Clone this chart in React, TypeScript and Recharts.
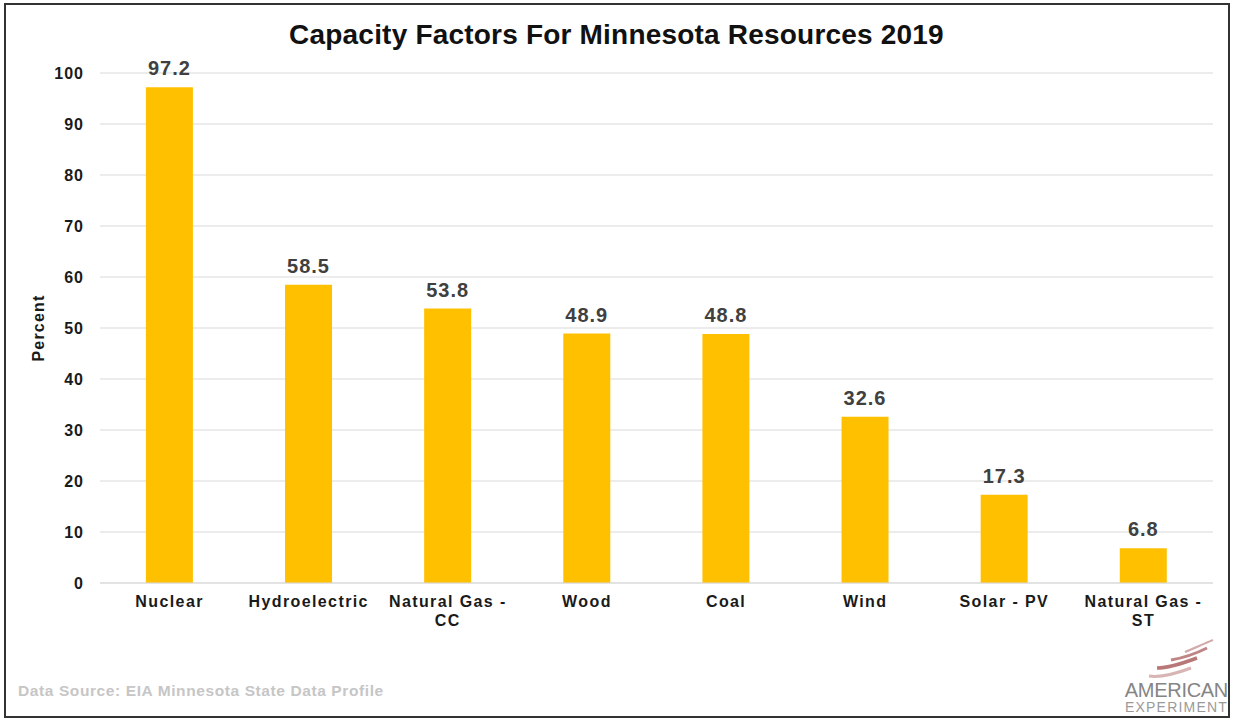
import React from "react";
import { BarChart, Bar, XAxis, YAxis, CartesianGrid, LabelList } from "recharts";

const categories = ["Nuclear", "Hydroelectric", "Natural Gas - CC", "Wood", "Coal", "Wind", "Solar - PV", "Natural Gas - ST"];
const values = [97.2, 58.5, 53.8, 48.9, 48.8, 32.6, 17.3, 6.8];
const yTicks = [0, 10, 20, 30, 40, 50, 60, 70, 80, 90, 100];

const data = categories.map((c, i) => ({ name: c, value: values[i] }));

const FONT = "'Liberation Sans', Arial, sans-serif";

const XTick = (props: any) => {
  const { x, y, payload } = props;
  const label: string = payload.value;
  let lines: string[] = [label];
  if (label.startsWith("Natural Gas - ")) {
    lines = ["Natural Gas -", label.replace("Natural Gas - ", "")];
  }
  return (
    <g transform={`translate(${x},${y})`}>
      {lines.map((l, i) => (
        <text key={i} x={0} y={i * 19} dy={12} textAnchor="middle" fill="#1a1a1a" fontSize={16} fontWeight="bold" letterSpacing={1.4} fontFamily={FONT}>
          {l}
        </text>
      ))}
    </g>
  );
};

export default function App() {
  return (
    <div style={{ position: "absolute", left: 0, top: 0, width: 1233, height: 721, background: "#fff", fontFamily: FONT }}>
      <div style={{ position: "absolute", left: 4, top: 3, width: 1222, height: 711, border: "2px solid #333", boxSizing: "content-box" }} />
      <div style={{ position: "absolute", left: 0, top: 19, width: 1233, textAlign: "center", fontSize: 28, fontWeight: "bold", color: "#111", letterSpacing: 0.2 }}>
        Capacity Factors For Minnesota Resources 2019
      </div>
      <div style={{ position: "absolute", left: 0, top: 0 }}>
        <BarChart width={1233} height={721} data={data} margin={{ top: 73, right: 20, bottom: 108, left: 0 }} barCategoryGap="33%">
          <CartesianGrid vertical={false} stroke="#d9d9d9" />
          <XAxis dataKey="name" height={30} axisLine={{ stroke: "#d9d9d9" }} tickLine={false} tick={<XTick />} interval={0} tickMargin={6} />
          <YAxis
            width={100}
            domain={[0, 100]}
            ticks={yTicks}
            axisLine={false}
            tickLine={false}
            tickSize={0}
            tickMargin={16}
            tick={{ fill: "#1a1a1a", fontSize: 16, fontWeight: "bold", fontFamily: FONT, letterSpacing: 1 }}
            label={{ value: "Percent", angle: -90, position: "insideLeft", offset: 38, style: { fill: "#1a1a1a", fontSize: 16, fontWeight: "bold", fontFamily: FONT, textAnchor: "middle", letterSpacing: 1.2 } }}
          />
          <Bar dataKey="value" fill="#FFC000" isAnimationActive={false}>
            <LabelList dataKey="value" position="top" offset={12} fill="#404040" fontSize={20} fontWeight="bold" letterSpacing={1} fontFamily={FONT} />
          </Bar>
        </BarChart>
      </div>
      <div style={{ position: "absolute", left: 18, top: 682, fontSize: 15.5, fontWeight: "bold", color: "#c6c6c6", letterSpacing: 0.6 }}>
        Data Source: EIA Minnesota State Data Profile
      </div>
      <svg style={{ position: "absolute", left: 1145, top: 638 }} width={72} height={45}>
        <path d="M40 14 C50 10, 58 6, 68 2" stroke="#d4aaaa" strokeWidth={2} fill="none" />
        <path d="M26 22 C38 20, 50 16, 62 10" stroke="#c08585" strokeWidth={3} fill="none" />
        <path d="M12 30 C24 30, 36 26, 52 20" stroke="#b87878" strokeWidth={3.5} fill="none" />
        <path d="M4 38 C16 40, 30 36, 46 30" stroke="#d8b4b4" strokeWidth={3} fill="none" />
      </svg>
      <div style={{ position: "absolute", left: 1090, top: 680, width: 138, textAlign: "right", fontSize: 20, color: "#858585", lineHeight: "20px", letterSpacing: -0.3 }}>
        AMERICAN
      </div>
      <div style={{ position: "absolute", left: 1090, top: 700, width: 138, textAlign: "right", fontSize: 14, color: "#9a9a9a", lineHeight: "15px", letterSpacing: 1.2 }}>
        EXPERIMENT
      </div>
    </div>
  );
}
